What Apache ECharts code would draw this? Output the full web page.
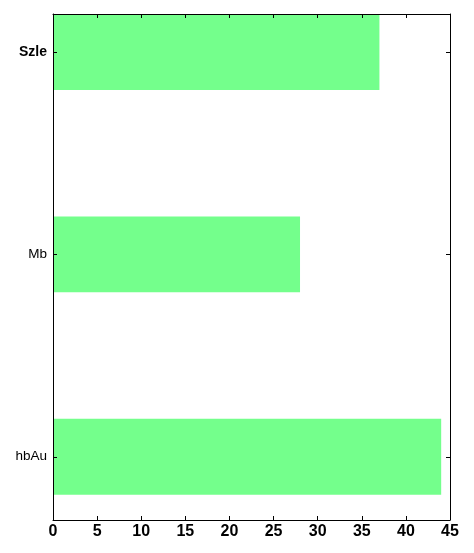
<!DOCTYPE html>
<html>
<head>
<meta charset="utf-8">
<script src="https://cdn.jsdelivr.net/npm/echarts@6/dist/echarts.min.js"></script>
<style>
  html, body { margin: 0; padding: 0; background: #fff; }
  #chart { width: 474px; height: 553px; }
</style>
</head>
<body>
<div id="chart"></div>
<script>
const categories = ["Szle", "Mb", "hbAu"];
const values = [37, 28, 44];
const xTicks = [0, 5, 10, 15, 20, 25, 30, 35, 40, 45];

const BAR_COLOR = "#74ff8c";
const BAR_HALF = 0.1875;
const FONT = "Liberation Sans, Arial, sans-serif";
const catIdx = categories.map((_, i) => i);

const chart = echarts.init(document.getElementById("chart"));

const xCommon = {
  type: "value",
  min: 0,
  max: 45,
  interval: 5,
  z: 10,
  splitLine: { show: false },
  axisLine: { show: true, onZero: false, lineStyle: { color: "#000", width: 1 } },
  axisTick: { show: true, inside: true, length: 4, lineStyle: { color: "#000" } },
};

const yCommon = {
  type: "value",
  min: -BAR_HALF,
  max: 2.3125,
  inverse: true,
  z: 10,
  splitLine: { show: false },
  axisLine: { show: true, onZero: false, lineStyle: { color: "#000", width: 1 } },
  axisTick: { show: true, inside: true, length: 4, customValues: catIdx, lineStyle: { color: "#000" } },
};

chart.setOption({
  animation: false,
  grid: { left: 53, right: 24, top: 14, bottom: 33, containLabel: false },
  xAxis: [
    {
      ...xCommon,
      position: "bottom",
      axisLabel: {
        color: "#000",
        fontFamily: FONT,
        fontSize: 16,
        fontWeight: "bold",
        margin: 4,
        customValues: xTicks,
      },
    },
    { ...xCommon, position: "top", axisLabel: { show: false } },
  ],
  yAxis: [
    {
      ...yCommon,
      position: "left",
      axisLabel: {
        color: "#000",
        fontFamily: FONT,
        fontSize: 13.5,
        margin: 6,
        customValues: catIdx,
        formatter: (v) => {
          const name = categories[Math.round(v)];
          return Math.round(v) === 0 ? `{b|${name}}` : name;
        },
        rich: { b: { fontWeight: "bold", fontSize: 14, fontFamily: FONT, color: "#000" } },
      },
    },
    { ...yCommon, position: "right", axisLabel: { show: false } },
  ],
  series: [
    {
      type: "custom",
      xAxisIndex: 0,
      yAxisIndex: 0,
      data: values.map((v, i) => [v, i]),
      renderItem: (params, api) => {
        const v = api.value(0);
        const idx = api.value(1);
        const p0 = api.coord([0, idx - BAR_HALF]);
        const p1 = api.coord([v, idx + BAR_HALF]);
        return {
          type: "rect",
          shape: { x: p0[0], y: p0[1], width: p1[0] - p0[0], height: p1[1] - p0[1] },
          style: { fill: BAR_COLOR },
        };
      },
      z: 1,
    },
  ],
});
</script>
</body>
</html>
